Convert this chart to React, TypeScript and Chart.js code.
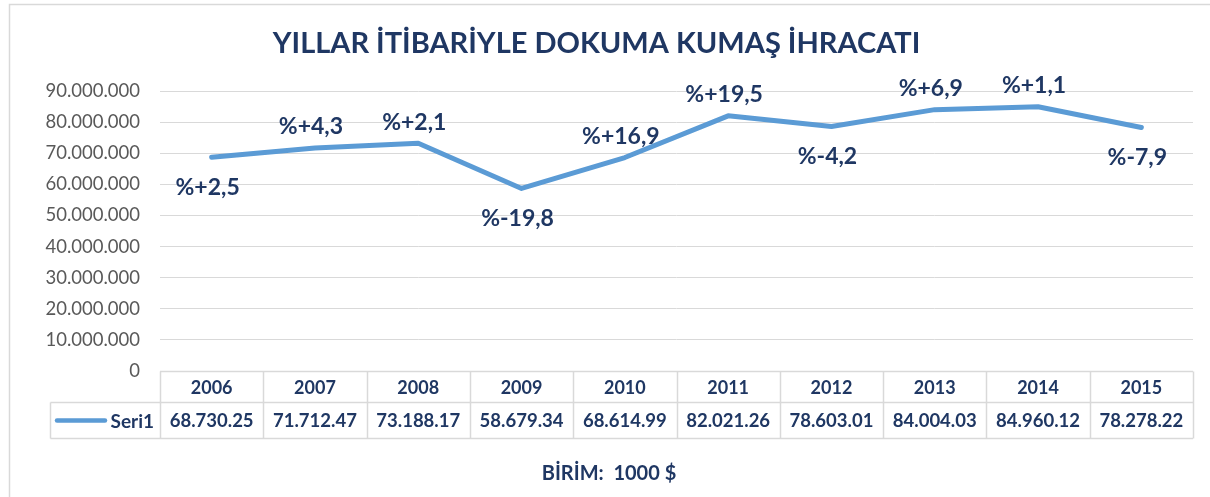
import React, { useEffect, useRef } from 'react';
import { Chart, registerables } from 'chart.js';

Chart.register(...registerables);

// ---------- data ----------
const years = ['2006', '2007', '2008', '2009', '2010', '2011', '2012', '2013', '2014', '2015'];
const exportValues = [68730250, 71712470, 73188170, 58679340, 68614990, 82021260, 78603010, 84004030, 84960120, 78278220];
const changeLabels = ['%+2,5', '%+4,3', '%+2,1', '%-19,8', '%+16,9', '%+19,5', '%-4,2', '%+6,9', '%+1,1', '%-7,9'];
const yTickValues = [0, 10000000, 20000000, 30000000, 40000000, 50000000, 60000000, 70000000, 80000000, 90000000];
const seriesName = 'Seri1';
const titleText = 'YILLAR İTİBARİYLE DOKUMA KUMAŞ İHRACATI';
const unitText = 'BİRİM:  1000 $';

// ---------- style ----------
const NAVY = '#1F3763';
const LINE = '#5B9BD5';
const GRID = '#D9D9D9';
const FONT = 'Lato';
const labelPlacement = ['below', 'above', 'above', 'below', 'above', 'above', 'below', 'above', 'above', 'below'];

const fmtTick = (v: number) => String(v).replace(/\B(?=(\d{3})+(?!\d))/g, '.');
const fmtTable = (v: number) => {
  const s = String(Math.round(v / 10));
  return s.slice(0, -5) + '.' + s.slice(-5, -2) + '.' + s.slice(-2);
};

const decorPlugin = {
  id: 'decor',
  beforeDraw(chart: any) {
    const ctx = chart.ctx;
    ctx.save();
    ctx.strokeStyle = GRID;
    ctx.lineWidth = 1.5;
    ctx.beginPath();
    ctx.moveTo(9.5, 497);
    ctx.lineTo(9.5, 4.5);
    ctx.lineTo(1210, 4.5);
    ctx.stroke();
    ctx.restore();
  },
  afterDatasetsDraw(chart: any) {
    const ctx = chart.ctx;
    const meta = chart.getDatasetMeta(0);
    ctx.save();
    ctx.fillStyle = NAVY;
    ctx.font = `bold 23px ${FONT}`;
    ctx.textAlign = 'center';
    ctx.textBaseline = 'middle';
    meta.data.forEach((pt: any, i: number) => {
      const dy = labelPlacement[i] === 'above' ? -21 : 30;
      ctx.fillText(changeLabels[i], pt.x - 4, pt.y + dy);
    });
    ctx.restore();
  },
  afterDraw(chart: any) {
    const ctx = chart.ctx;
    const area = chart.chartArea;
    const xs = chart.scales.x;
    const n = years.length;
    const colW = (area.right - area.left) / n;
    const top = area.bottom + 0.5;
    const mid = top + 31;
    const bot = mid + 36;
    const legLeft = 50.5;
    ctx.save();
    ctx.strokeStyle = GRID;
    ctx.lineWidth = 1.5;
    ctx.beginPath();
    ctx.moveTo(area.left, top); ctx.lineTo(area.right, top);
    ctx.moveTo(legLeft, mid); ctx.lineTo(area.right, mid);
    ctx.moveTo(legLeft, bot); ctx.lineTo(area.right, bot);
    for (let i = 0; i <= n; i++) {
      const x = Math.round(area.left + i * colW) + 0.5;
      ctx.moveTo(x, top); ctx.lineTo(x, bot);
    }
    ctx.moveTo(legLeft, mid); ctx.lineTo(legLeft, bot);
    ctx.stroke();

    ctx.fillStyle = NAVY;
    ctx.textAlign = 'center';
    ctx.textBaseline = 'middle';
    ctx.font = `bold 18px ${FONT}`;
    years.forEach((y, i) => ctx.fillText(y, xs.getPixelForValue(i), (top + mid) / 2 + 1));
    ctx.font = `bold 18.5px ${FONT}`;
    exportValues.forEach((v, i) => ctx.fillText(fmtTable(v), xs.getPixelForValue(i), (mid + bot) / 2 + 1));

    // legend key
    const ly = (mid + bot) / 2;
    ctx.strokeStyle = LINE;
    ctx.lineWidth = 4.5;
    ctx.lineCap = 'round';
    ctx.beginPath();
    ctx.moveTo(57, ly); ctx.lineTo(105, ly);
    ctx.stroke();
    ctx.textAlign = 'right';
    ctx.font = `bold 19px ${FONT}`;
    ctx.fillText(seriesName, 154, ly + 1);

    // unit footer
    ctx.textAlign = 'center';
    ctx.font = `bold 20px ${FONT}`;
    ctx.fillText(unitText, 609, 474);
    ctx.restore();
  },
};

export default function App() {
  const ref = useRef<HTMLCanvasElement | null>(null);
  useEffect(() => {
    document.body.style.margin = '0';
    if (!ref.current) return;
    const chart = new Chart(ref.current, {
      type: 'line',
      data: {
        labels: years,
        datasets: [
          {
            label: seriesName,
            data: exportValues,
            borderColor: LINE,
            backgroundColor: LINE,
            borderWidth: 5,
            pointRadius: 0,
            tension: 0,
            borderCapStyle: 'round',
            borderJoinStyle: 'round',
          },
        ],
      },
      options: {
        animation: false,
        responsive: false,
        layout: { padding: { left: 0, right: 17, top: 0, bottom: 126 } },
        plugins: {
          legend: { display: false },
          tooltip: { enabled: false },
          title: {
            display: true,
            text: titleText,
            color: NAVY,
            font: { family: FONT, size: 29, weight: 'bold' },
            padding: { top: 26, bottom: 30.2 },
          },
        },
        scales: {
          x: { type: 'category', display: false, offset: true },
          y: {
            min: 0,
            max: 90000000,
            afterBuildTicks: (scale: any) => {
              scale.ticks = yTickValues.map((v) => ({ value: v }));
            },
            afterFit: (scale: any) => {
              scale.width = 160;
            },
            border: { display: false },
            grid: { color: GRID, lineWidth: 1, drawTicks: false },
            ticks: {
              padding: 20,
              color: '#595959',
              font: { family: FONT, size: 18.5 },
              callback: (v: any) => fmtTick(Number(v)),
            },
          },
        },
      },
      plugins: [decorPlugin],
    } as any);
    return () => chart.destroy();
  }, []);
  return (
    <div style={{ width: 1210, height: 497, position: 'relative', background: '#fff' }}>
      <canvas ref={ref} width={1210} height={497} />
    </div>
  );
}
